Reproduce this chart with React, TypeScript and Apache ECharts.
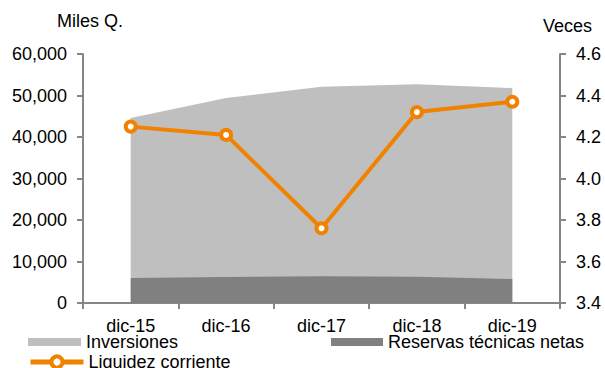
import React, { useEffect, useRef } from "react";
import * as echarts from "echarts";

const categories = ["dic-15", "dic-16", "dic-17", "dic-18", "dic-19"];
const inversiones = [44600, 49400, 52100, 52700, 51800];
const reservas = [6000, 6250, 6450, 6300, 5800];
const liquidez = [4.25, 4.21, 3.76, 4.32, 4.37];

const FONT = "Liberation Sans, Arial, sans-serif";
const AXIS_COLOR = "#868686";
const ORANGE = "#F08200";
const LIGHT = "#BFBFBF";
const DARK = "#808080";

export default function App() {
  const ref = useRef<HTMLDivElement>(null);
  useEffect(() => {
    if (!ref.current) return;
    const chart = echarts.init(ref.current, null, { renderer: "svg" });
    const axisLine = { show: true, lineStyle: { color: AXIS_COLOR, width: 2 } };
    const axisTick = { show: true, length: 6, lineStyle: { color: AXIS_COLOR, width: 2 } };
    const labelStyle = { color: "#000", fontFamily: FONT, fontSize: 18 };
    chart.setOption({
      animation: false,
      textStyle: { fontFamily: FONT },
      grid: { left: 83, right: 45, top: 54, bottom: 65, containLabel: false },
      xAxis: {
        type: "category",
        data: categories,
        boundaryGap: true,
        axisLine,
        axisTick: { ...axisTick, alignWithLabel: false },
        axisLabel: { ...labelStyle, margin: 14 },
        splitLine: { show: false },
      },
      yAxis: [
        {
          type: "value",
          min: 0,
          max: 60000,
          interval: 10000,
          position: "left",
          axisLine,
          axisTick,
          splitLine: { show: false },
          axisLabel: {
            ...labelStyle,
            margin: 16,
            formatter: (v: number) => v.toLocaleString("en-US"),
          },
        },
        {
          type: "value",
          min: 3.4,
          max: 4.6,
          interval: 0.2,
          position: "right",
          axisLine,
          axisTick,
          splitLine: { show: false },
          axisLabel: {
            ...labelStyle,
            margin: 16,
            formatter: (v: number) => v.toFixed(1),
          },
        },
      ],
      legend: [
        {
          data: [{ name: "Inversiones", icon: "rect" }],
          left: 28,
          top: 333,
          itemWidth: 53,
          itemHeight: 8,
          padding: 0,
          textStyle: { ...labelStyle, lineHeight: 18 },
        },
        {
          data: [{ name: "Reservas técnicas netas", icon: "rect" }],
          left: 331,
          top: 333,
          itemWidth: 52,
          itemHeight: 8,
          padding: 0,
          textStyle: { ...labelStyle, lineHeight: 18 },
        },
        {
          data: [
            {
              name: "Liquidez corriente",
              lineStyle: { color: ORANGE, width: 5 },
              itemStyle: { color: "#fff", borderColor: ORANGE, borderWidth: 4 },
            },
          ],
          left: 28,
          top: 353,
          itemWidth: 53,
          itemHeight: 14,
          padding: 0,
          textStyle: { ...labelStyle, lineHeight: 18 },
        },
      ],
      graphic: [
        {
          type: "text",
          left: 57,
          top: 12,
          style: { text: "Miles Q.", fill: "#000", font: `18px ${FONT}` },
        },
        {
          type: "text",
          left: 543,
          top: 17,
          style: { text: "Veces", fill: "#000", font: `18px ${FONT}` },
        },
      ],
      series: [
        {
          name: "Inversiones",
          type: "line",
          data: inversiones,
          yAxisIndex: 0,
          color: LIGHT,
          symbol: "none",
          lineStyle: { width: 0 },
          areaStyle: { color: LIGHT, opacity: 1 },
          z: 1,
        },
        {
          name: "Reservas técnicas netas",
          type: "line",
          data: reservas,
          yAxisIndex: 0,
          color: DARK,
          symbol: "none",
          lineStyle: { width: 0 },
          areaStyle: { color: DARK, opacity: 1 },
          z: 2,
        },
        {
          name: "Liquidez corriente",
          type: "line",
          data: liquidez,
          yAxisIndex: 1,
          color: ORANGE,
          symbol: "circle",
          symbolSize: 10,
          showAllSymbol: true,
          lineStyle: { color: ORANGE, width: 4 },
          itemStyle: { color: "#fff", borderColor: ORANGE, borderWidth: 4 },
          z: 3,
        },
      ],
    });
    return () => chart.dispose();
  }, []);
  return (
    <div
      ref={ref}
      style={{ position: "fixed", left: 0, top: 0, width: 605, height: 368, background: "#fff" }}
    />
  );
}
